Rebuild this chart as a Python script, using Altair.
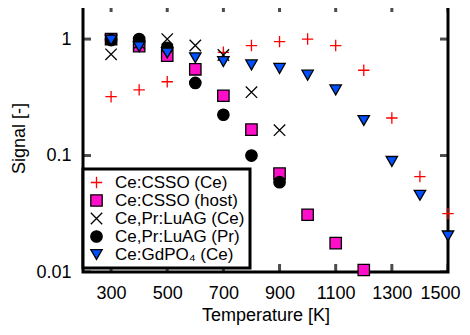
import altair as alt
import pandas as pd

# ---- data ----
series_names = ["Ce:CSSO (Ce)", "Ce:CSSO (host)", "Ce,Pr:LuAG (Ce)", "Ce,Pr:LuAG (Pr)", "Ce:GdPO\u2084 (Ce)"]

csso_ce_T = [300, 400, 500, 700, 800, 900, 1000, 1100, 1200, 1300, 1400, 1500]
csso_ce_v = [0.32, 0.366, 0.43, 0.77, 0.88, 0.95, 1.0, 0.88, 0.54, 0.21, 0.066, 0.0317]

csso_host_T = [300, 400, 500, 600, 700, 800, 900, 1000, 1100, 1200]
csso_host_v = [1.0, 0.87, 0.72, 0.55, 0.326, 0.167, 0.070, 0.031, 0.0177, 0.0104]

luag_ce_T = [300, 400, 500, 600, 700, 800, 900]
luag_ce_v = [0.74, 0.92, 1.0, 0.88, 0.73, 0.35, 0.165]

luag_pr_T = [300, 400, 500, 600, 700, 800, 900]
luag_pr_v = [0.98, 1.0, 0.84, 0.42, 0.224, 0.1, 0.059]

gdpo_T = [300, 400, 500, 600, 700, 800, 900, 1000, 1100, 1200, 1300, 1400, 1500]
gdpo_v = [0.98, 0.86, 0.76, 0.69, 0.64, 0.60, 0.56, 0.49, 0.366, 0.20, 0.089, 0.0455, 0.0204]

x_ticks = [300, 500, 700, 900, 1100, 1300, 1500]
y_ticks = [0.01, 0.1, 1]

rows = []
for name, T, V in zip(series_names,
                      [csso_ce_T, csso_host_T, luag_ce_T, luag_pr_T, gdpo_T],
                      [csso_ce_v, csso_host_v, luag_ce_v, luag_pr_v, gdpo_v]):
    for t, v in zip(T, V):
        rows.append({"series": name, "T": t, "signal": v, "order": series_names.index(name)})
df = pd.DataFrame(rows)

xdf = pd.DataFrame({"x": x_ticks})
ydf = pd.DataFrame({"y": y_ticks})

FONT = "Liberation Sans"
FS = 18
W, H = 365, 268

xscale = alt.Scale(domain=[200, 1500], nice=False, zero=False)
yscale = alt.Scale(type="log", domain=[0.01, 2], nice=False)

shapes = ["M-1,0H1M0,-1V1", "square", "M-1,-1L1,1M-1,1L1,-1", "circle", "triangle-down"]
fills = ["transparent", "#ff10c8", "transparent", "#000000", "#0050ff"]
strokes = ["#ff0000", "#000000", "#000000", "#000000", "#000000"]

points = alt.Chart(df).mark_point(size=130, strokeWidth=1.3, opacity=1, filled=False).encode(
    x=alt.X("T:Q", scale=xscale,
            axis=alt.Axis(values=x_ticks, format="d", labelOverlap=False, labelFlush=True,
                          labelFlushOffset=12,
                          title="Temperature [K]",
                          ticks=False, tickSize=0, domain=False, grid=False, labelPadding=12,
                          titlePadding=4, labelFontSize=FS, titleFontSize=FS, labelFont=FONT,
                          titleFont=FONT, titleFontWeight="normal", labelColor="black",
                          titleColor="black")),
    y=alt.Y("signal:Q", scale=yscale,
            axis=alt.Axis(values=y_ticks, format="~g", labelOverlap=False, labelFlush=False,
                          title="Signal [-]",
                          ticks=False, tickSize=0, domain=False, grid=False, labelPadding=12,
                          titlePadding=7, labelFontSize=FS, titleFontSize=FS, labelFont=FONT,
                          titleFont=FONT, titleFontWeight="normal", labelColor="black",
                          titleColor="black")),
    shape=alt.Shape("series:N", scale=alt.Scale(domain=series_names, range=shapes),
                    legend=alt.Legend(title=None, orient="none", legendX=0, legendY=165,
                                      labelFont=FONT, labelFontSize=17, labelColor="black",
                                      symbolSize=130, symbolStrokeWidth=1.3, rowPadding=0,
                                      labelOffset=10, padding=5, fillColor="white",
                                      strokeColor="black", labelLimit=300)),
    fill=alt.Fill("series:N", scale=alt.Scale(domain=series_names, range=fills), legend=None),
    stroke=alt.Stroke("series:N", scale=alt.Scale(domain=series_names, range=strokes), legend=None),
    order=alt.Order("order:Q"),
)

xt_bottom = alt.Chart(xdf).mark_tick(color="black", thickness=3, size=16, clip=True, orient="vertical").encode(
    x=alt.X("x:Q", scale=xscale), y=alt.datum(0.01, scale=yscale))
xt_top = alt.Chart(xdf).mark_tick(color="black", thickness=3, size=16, clip=True, orient="vertical").encode(
    x=alt.X("x:Q", scale=xscale), y=alt.datum(2, scale=yscale))
yt_left = alt.Chart(ydf).mark_tick(color="black", thickness=3, size=16, clip=True, orient="horizontal").encode(
    y=alt.Y("y:Q", scale=yscale), x=alt.datum(200, scale=xscale))
yt_right = alt.Chart(ydf).mark_tick(color="black", thickness=3, size=16, clip=True, orient="horizontal").encode(
    y=alt.Y("y:Q", scale=yscale), x=alt.datum(1500, scale=xscale))

chart = alt.layer(xt_bottom, xt_top, yt_left, yt_right, points).properties(
    width=W, height=H,
    autosize=alt.AutoSizeParams(type="none"),
    padding={"left": 75, "top": -4, "right": 14, "bottom": 55},
).configure_view(stroke="black", strokeWidth=3).configure_legend(strokeWidth=3)

chart.save("out.html", embed_options={"renderer": "svg", "actions": False})
